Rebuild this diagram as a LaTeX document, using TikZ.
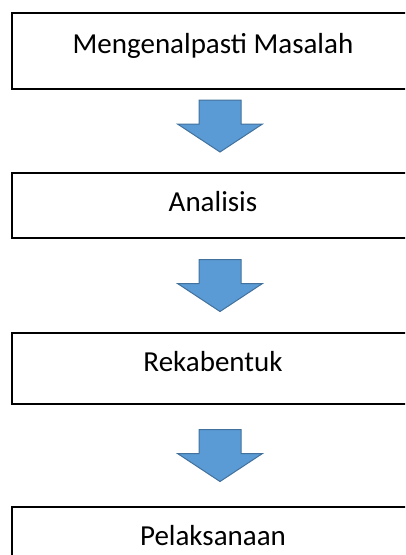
\documentclass[tikz,border=0pt]{standalone}
\usepackage{fontspec}
\setmainfont{Carlito}
\usepackage{xcolor}
\usetikzlibrary{positioning, calc}

\definecolor{panahbiru}{HTML}{5B9BD5}
\definecolor{panahtepi}{HTML}{41719C}

\tikzset{
  kotak/.style={draw=black, line width=1.2pt, minimum width=420pt, inner sep=0pt},
  teks/.style={anchor=base, inner sep=0pt, font=\fontsize{29}{35}\selectfont},
  panah/.style={fill=panahbiru, draw=panahtepi, line width=1pt, line join=miter}
}

\begin{document}
\begin{tikzpicture}[x=1pt, y=-1pt]
  \useasboundingbox (0,0) rectangle (405,555);
  \clip (0,0) rectangle (405,555);

  % Boxes
  \node[kotak, minimum height=76pt] (masalah) at (222,51) {};
  \node[kotak, minimum height=65pt] (analisis) at (222,205.5) {};
  \node[kotak, minimum height=71pt] (reka) at (222,368.5) {};
  \node[kotak, minimum height=73pt] (laksana) at (222,543.5) {};

  % Labels
  \node[teks] (tmasalah) at (213,53) {Mengenalpasti Masalah};
  \node[teks] (tanalisis) at (213,211) {Analisis};
  \node[teks] (treka) at (213,371) {Rekabentuk};
  \node[teks] (tlaksana) at (213,545) {Pelaksanaan};

  % Block arrows
  \foreach \a/\b/\dy in {masalah/analisis/-5, analisis/reka/0, reka/laksana/0} {
    \coordinate (m) at ($(\a.south)!0.5!(\b.north)+(-2,\dy)$);
    \draw[panah] ($(m)+(-21,-26)$) -- ($(m)+(21,-26)$) -- ($(m)+(21,-2)$)
      -- ($(m)+(42.5,-2)$) -- ($(m)+(0,26)$) -- ($(m)+(-42.5,-2)$)
      -- ($(m)+(-21,-2)$) -- cycle;
  }
\end{tikzpicture}
\end{document}
